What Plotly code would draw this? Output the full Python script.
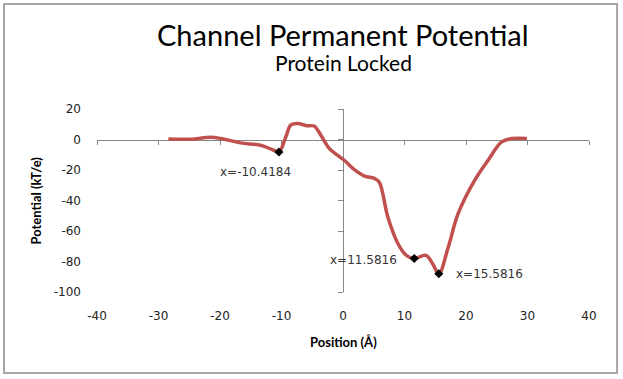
import plotly.graph_objects as go

############################################################
# DATA
############################################################

position = [-28.4, -24.8, -21.5, -19.9, -16.7, -13.4, -11.5, -10.4184, -9.3, -8.5,
            -7.4, -5.8, -4.7, -3.6, -2.2, -0.9, 0.2, 1.8, 3.5, 5.1,
            5.9, 7.3, 8.9, 10.3, 11.5816, 13.5, 14.6, 15.5816, 17.1, 18.7,
            21.4, 23.6, 25.8, 27.4, 29.9]
potential = [0.3, 0.2, 1.5, 0.7, -2.2, -3.8, -6.6, -8.2, 1.7, 9.4,
             10.5, 9.0, 8.8, 2.8, -6.0, -10.3, -13.6, -19.6, -24.0, -25.5,
             -28.0, -51.0, -68.0, -76.0, -78.0, -76.0, -81.7, -88.0, -70.8, -48.8,
             -26.8, -13.6, -1.6, 0.6, 0.6]

marked_x = [-10.4184, 11.5816, 15.5816]
marked_y = [-8.2, -78.0, -88.0]
marked_text = ["x=-10.4184", "x=11.5816", "x=15.5816"]

x_ticks = [-40, -30, -20, -10, 0, 10, 20, 30, 40]
x_tick_text = ["-40", "-30", "-20", "-10", "0", "10", "20", "30", "40"]
y_ticks = [-100, -80, -60, -40, -20, 0, 20]
y_tick_text = ["-100", "-80", "-60", "-40", "-20", "0", "20"]

RED = "#C0504D"
AXIS = "#868686"

############################################################
# FIGURE
############################################################

fig = go.Figure()

# empty trace keeps the base subplot (tick labels only)
fig.add_trace(go.Scatter(x=[], y=[], showlegend=False, hoverinfo="skip"))

fig.add_trace(
    go.Scatter(
        x=position,
        y=potential,
        mode="lines",
        line=dict(color=RED, width=3.5, shape="spline", smoothing=1.0),
        xaxis="x2",
        yaxis="y2",
        showlegend=False
    )
)

fig.add_trace(
    go.Scatter(
        x=marked_x,
        y=marked_y,
        mode="markers",
        marker=dict(symbol="diamond", size=7, color="black"),
        xaxis="x2",
        yaxis="y2",
        showlegend=False
    )
)

############################################################
# MARKER LABELS
############################################################

offsets = [(-23, 20), (-51, 2), (51, 0)]
for mx, my, txt, (dx, dy) in zip(marked_x, marked_y, marked_text, offsets):
    fig.add_annotation(
        x=mx, y=my, xref="x2", yref="y2",
        text=txt, showarrow=True, arrowcolor="rgba(0,0,0,0)",
        ax=dx, ay=dy,
        font=dict(family="DejaVu Sans", size=12, color="#333333")
    )

############################################################
# TITLES
############################################################

fig.add_annotation(
    x=0.5, y=1.405, xref="paper", yref="paper",
    text="Channel Permanent Potential", showarrow=False,
    font=dict(family="Lato", size=29, color="black"),
    xanchor="center", yanchor="middle"
)
fig.add_annotation(
    x=0.5, y=1.255, xref="paper", yref="paper",
    text="Protein Locked", showarrow=False,
    font=dict(family="Lato", size=21, color="black"),
    xanchor="center", yanchor="middle"
)
fig.add_annotation(
    x=0.5, y=-0.272, xref="paper", yref="paper",
    text="<b>Position (Å)</b>", showarrow=False,
    font=dict(family="Lato", size=13, color="black"),
    xanchor="center", yanchor="middle"
)
fig.add_annotation(
    x=-0.124, y=0.5, xref="paper", yref="paper",
    text="<b>Potential (kT/e)</b>", showarrow=False, textangle=-90,
    font=dict(family="Lato", size=13, color="black"),
    xanchor="center", yanchor="middle"
)

############################################################
# AXES
############################################################

tick_font = dict(family="DejaVu Sans", size=12, color="#222222")

fig.update_layout(
    xaxis=dict(
        range=[-40, 40], tickvals=x_ticks, ticktext=x_tick_text,
        showline=False, ticks="", showgrid=False, zeroline=False,
        tickfont=tick_font, ticklabelstandoff=15, fixedrange=True
    ),
    yaxis=dict(
        range=[-100, 20], tickvals=y_ticks, ticktext=y_tick_text,
        showline=False, ticks="", showgrid=False, zeroline=False,
        tickfont=tick_font, ticklabelstandoff=15, fixedrange=True
    ),
    xaxis2=dict(
        range=[-40, 40], tickvals=x_ticks, overlaying="x", anchor="free",
        position=5 / 6, side="bottom", showline=True, linecolor=AXIS,
        linewidth=1, ticks="outside", ticklen=4, tickcolor=AXIS,
        showticklabels=False, showgrid=False, zeroline=False,
        layer="below traces"
    ),
    yaxis2=dict(
        range=[-100, 20], tickvals=y_ticks, overlaying="y", anchor="free",
        position=0.5, side="left", showline=True, linecolor=AXIS,
        linewidth=1, ticks="outside", ticklen=5, tickcolor=AXIS,
        showticklabels=False, showgrid=False, zeroline=False,
        layer="below traces"
    )
)

############################################################
# BORDER + LAYOUT
############################################################

fig.add_shape(
    type="rect", xref="paper", yref="paper",
    x0=-0.189, x1=1.057, y0=-0.443, y1=1.574,
    line=dict(color="#A6A6A6", width=2)
)

fig.update_layout(
    width=623,
    height=379,
    margin=dict(l=97, r=34, t=109, b=87),
    paper_bgcolor="white",
    plot_bgcolor="white",
    showlegend=False
)

fig.write_html(
    "out.html",
    config={"displayModeBar": False},
    post_script="document.body.style.margin='0px';"
)
